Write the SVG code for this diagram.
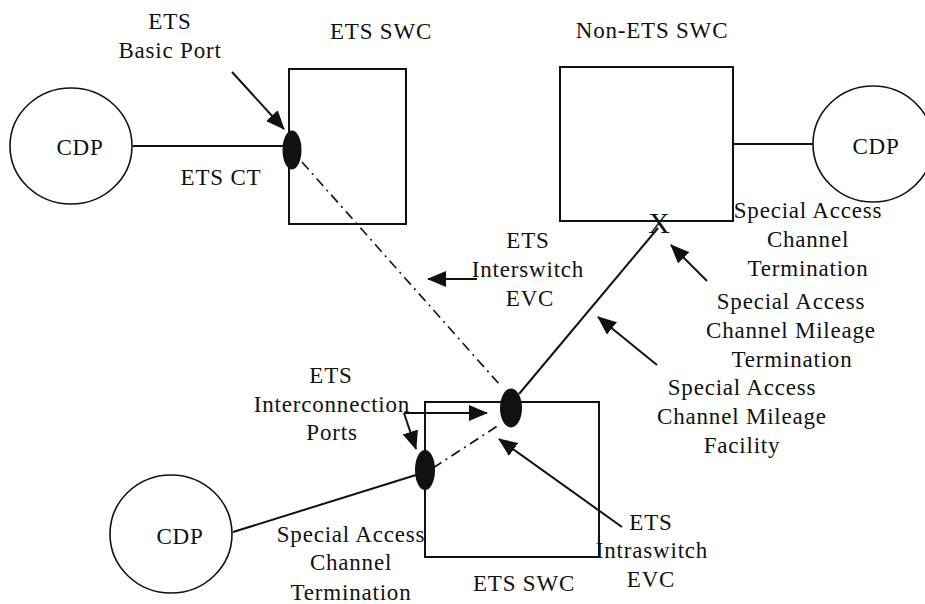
<svg xmlns="http://www.w3.org/2000/svg" width="925" height="604" viewBox="0 0 925 604">
<style>
text{font-family:"Liberation Serif","Times New Roman",serif;font-size:23px;letter-spacing:0.8px;fill:#111;text-anchor:middle}
.box{fill:none;stroke:#111;stroke-width:2}
.cdp{fill:none;stroke:#111;stroke-width:1.6}
.port{fill:#111;stroke:none}
.ln{fill:none;stroke:#111;stroke-width:2}
.dd{fill:none;stroke:#111;stroke-width:1.6;stroke-dasharray:10 5 2 5}
.arr{fill:none;stroke:#111;stroke-width:2;marker-end:url(#ah)}
</style>
<defs>
<marker id="ah" markerUnits="userSpaceOnUse" markerWidth="20" markerHeight="16" refX="18" refY="8" orient="auto">
<path d="M0,0 L19,8 L0,16 Z" fill="#111"/>
</marker>
</defs>
<rect width="925" height="604" fill="#fff"/>

<g id="connectors">
<line class="ln" x1="133" y1="146" x2="285" y2="146"/>
<line class="ln" x1="733" y1="144" x2="813" y2="144"/>
<line class="ln" x1="233" y1="532" x2="416" y2="475"/>
<line class="ln" x1="519" y1="394" x2="658" y2="228"/>
<line class="dd" x1="302" y1="162" x2="500" y2="385"/>
<line class="dd" x1="433" y1="468" x2="499" y2="425"/>
<line class="arr" x1="232" y1="72" x2="284" y2="129"/>
<line class="arr" x1="477" y1="279" x2="428" y2="279"/>
<line class="arr" x1="707" y1="281" x2="671" y2="245"/>
<line class="arr" x1="657" y1="365" x2="598" y2="317"/>
<line class="arr" x1="622" y1="527" x2="499" y2="439"/>
<line class="arr" x1="404" y1="413" x2="487" y2="413"/>
<line class="arr" x1="404" y1="413" x2="416" y2="449"/>
</g>

<g id="cdp-left">
<ellipse class="cdp" cx="71" cy="146" rx="61" ry="58"/>
<text x="80" y="155">CDP</text>
</g>

<g id="ets-swc-top">
<rect class="box" x="289" y="69" width="117" height="155"/>
<text x="381" y="39">ETS SWC</text>
</g>

<g id="ets-basic-port">
<ellipse class="port" cx="292" cy="150" rx="9.5" ry="19.5"/>
<text x="170" y="29">ETS</text>
<text x="170" y="58">Basic Port</text>
</g>

<text x="221" y="185">ETS CT</text>

<g id="non-ets-swc">
<rect class="box" x="560" y="67" width="173" height="154"/>
<text x="652" y="38">Non-ETS SWC</text>
<text x="659" y="233" style="font-size:30px;letter-spacing:0">X</text>
</g>

<g id="cdp-right">
<ellipse class="cdp" cx="873" cy="144" rx="60" ry="58"/>
<text x="876" y="154">CDP</text>
</g>

<g id="label-sact-top">
<text x="808" y="218">Special Access</text>
<text x="808" y="247">Channel</text>
<text x="808" y="276">Termination</text>
</g>

<g id="label-interswitch">
<text x="528" y="248">ETS</text>
<text x="528" y="277">Interswitch</text>
<text x="530" y="306">EVC</text>
</g>

<g id="label-mileage-term">
<text x="791" y="309">Special Access</text>
<text x="791" y="338">Channel Mileage</text>
<text x="792" y="367">Termination</text>
</g>

<g id="label-mileage-fac">
<text x="742" y="395">Special Access</text>
<text x="742" y="424">Channel Mileage</text>
<text x="742" y="453">Facility</text>
</g>

<g id="ets-swc-bottom">
<rect class="box" x="425" y="402" width="174" height="155"/>
<text x="524" y="591">ETS SWC</text>
</g>

<g id="interconnection-ports">
<ellipse class="port" cx="511" cy="408" rx="11" ry="19.5"/>
<ellipse class="port" cx="425" cy="470" rx="10" ry="20"/>
<text x="331" y="383">ETS</text>
<text x="332" y="412">Interconnection</text>
<text x="332" y="440">Ports</text>
</g>

<g id="cdp-bottom">
<ellipse class="cdp" cx="171" cy="534" rx="61" ry="59"/>
<text x="180" y="544">CDP</text>
</g>

<g id="label-sact-bottom">
<text x="351" y="542">Special Access</text>
<text x="351" y="570">Channel</text>
<text x="351" y="600">Termination</text>
</g>

<g id="label-intraswitch">
<text x="651" y="530">ETS</text>
<text x="652" y="558">Intraswitch</text>
<text x="651" y="587">EVC</text>
</g>
</svg>
